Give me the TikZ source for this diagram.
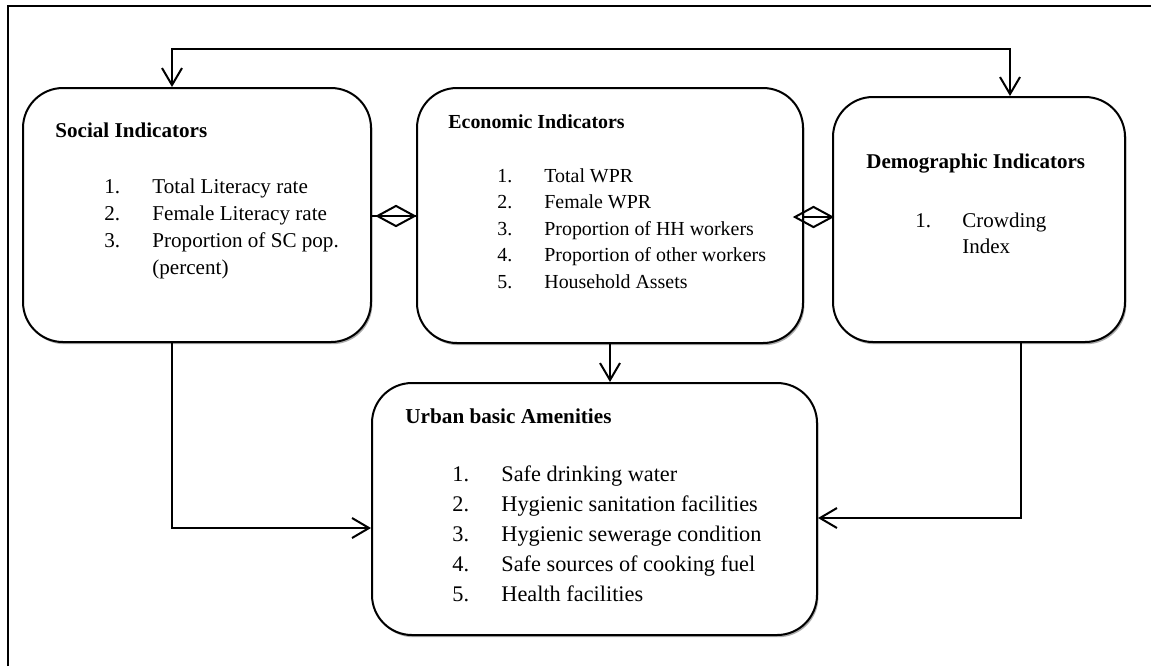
\documentclass[tikz,border=0pt]{standalone}
\usepackage{fontspec}
\setmainfont{Liberation Serif}
\usetikzlibrary{arrows.meta,shapes.geometric,shadows}

\tikzset{
  panel/.style={draw, line width=1pt, rounded corners=20pt, fill=white,
    drop shadow={shadow xshift=0.7pt, shadow yshift=-1.1pt, fill=black!55, opacity=0.6},
    inner sep=0pt},
  link/.style={draw, line width=1pt},
  arr/.style={link, -{Straight Barb[length=8.5pt,width=10pt]}},
  twoway/.style={link, {Straight Barb[length=8.5pt,width=10pt]}-{Straight Barb[length=8.5pt,width=10pt]}},
  dmd/.style={draw, diamond, line width=1pt, minimum width=19pt, minimum height=10.5pt, inner sep=0pt},
  txt/.style={anchor=base west, inner sep=0pt},
  fsoc/.style={font=\fontsize{10.55}{12}\selectfont},
  fsocb/.style={font=\fontsize{10.55}{12}\selectfont\bfseries},
  feco/.style={font=\fontsize{9.95}{12}\selectfont},
  fecob/.style={font=\fontsize{9.95}{12}\selectfont\bfseries},
  fdem/.style={font=\fontsize{10.5}{12}\selectfont},
  fdemb/.style={font=\fontsize{10.5}{12}\selectfont\bfseries},
  furbh/.style={font=\fontsize{10.6}{12}\selectfont\bfseries},
  furb/.style={font=\fontsize{11.15}{12}\selectfont},
}

\begin{document}
\begin{tikzpicture}[x=0.5pt,y=-0.5pt]
\useasboundingbox (0,0) rectangle (1151,666);

% page frame (top and left rules)
\draw[line width=1.3pt] (8,666) -- (8,6) -- (1151,6);

% the four panels
\node[panel, minimum width=174pt, minimum height=127pt] (soc) at (197,215) {};
\node[panel, minimum width=193pt, minimum height=127.5pt] (eco) at (610,215.5) {};
\node[panel, minimum width=146pt, minimum height=122.5pt] (dem) at (979,219.5) {};
\node[panel, minimum width=222.5pt, minimum height=126pt] (urb) at (594.5,509) {};

% Social Indicators
\node[txt, fsocb] (sh) at (55,137) {Social Indicators};
\node[txt, fsoc] (sn1) at (104,193) {1.};
\node[txt, fsoc] (st1) at (152,193) {Total Literacy rate};
\node[txt, fsoc] (sn2) at (104,220) {2.};
\node[txt, fsoc] (st2) at (152,220) {Female Literacy rate};
\node[txt, fsoc] (sn3) at (104,247) {3.};
\node[txt, fsoc] (st3) at (152,247) {Proportion of SC pop.};
\node[txt, fsoc] (st4) at (152,274) {(percent)};

% Economic Indicators
\node[txt, fecob] (eh) at (448,128) {Economic Indicators};
\node[txt, feco] (en1) at (497,182) {1.};
\node[txt, feco] (et1) at (544,182) {Total WPR};
\node[txt, feco] (en2) at (497,208.5) {2.};
\node[txt, feco] (et2) at (544,208.5) {Female WPR};
\node[txt, feco] (en3) at (497,235) {3.};
\node[txt, feco] (et3) at (544,235) {Proportion of HH workers};
\node[txt, feco] (en4) at (497,261.5) {4.};
\node[txt, feco] (et4) at (544,261.5) {Proportion of other workers};
\node[txt, feco] (en5) at (497,288) {5.};
\node[txt, feco] (et5) at (544,288) {Household Assets};

% Demographic Indicators
\node[txt, fdemb] (dh) at (866,168) {Demographic Indicators};
\node[txt, fdem] (dn1) at (915,227) {1.};
\node[txt, fdem] (dt1) at (962,227) {Crowding};
\node[txt, fdem] (dt2) at (962,253) {Index};

% Urban basic Amenities
\node[txt, furbh] (uh) at (405,423) {Urban basic Amenities};
\node[txt, furb] (un1) at (452,481) {1.};
\node[txt, furb] (ut1) at (501,481) {Safe drinking water};
\node[txt, furb] (un2) at (452,511) {2.};
\node[txt, furb] (ut2) at (501,511) {Hygienic sanitation facilities};
\node[txt, furb] (un3) at (452,541) {3.};
\node[txt, furb] (ut3) at (501,541) {Hygienic sewerage condition};
\node[txt, furb] (un4) at (452,571) {4.};
\node[txt, furb] (ut4) at (501,571) {Safe sources of cooking fuel};
\node[txt, furb] (un5) at (452,601) {5.};
\node[txt, furb] (ut5) at (501,601) {Health facilities};

% connector between Social and Demographic over the top
\coordinate (tl) at (172,49);
\coordinate (tr) at (1010,49);
\draw[twoway] (soc.north -| tl) -- (tl) -- (tr) -- (dem.north -| tr);

% diamond links between neighbouring panels
\coordinate (m1) at (396,216);
\coordinate (m2) at (813.5,217);
\draw[link] (soc.east |- m1) -- (eco.west |- m1);
\node[dmd] (dm1) at (m1) {};
\draw[link] (eco.east |- m2) -- (dem.west |- m2);
\node[dmd] (dm2) at (m2) {};

% links into Urban basic Amenities
\coordinate (bl) at (172,528);
\coordinate (br) at (1021,518);
\draw[arr] (soc.south -| bl) -- (bl) -- (urb.west |- bl);
\draw[arr] (dem.south -| br) -- (br) -- (urb.east |- br);
\draw[arr] (eco.south) -- (urb.north -| eco.south);
\end{tikzpicture}
\end{document}
